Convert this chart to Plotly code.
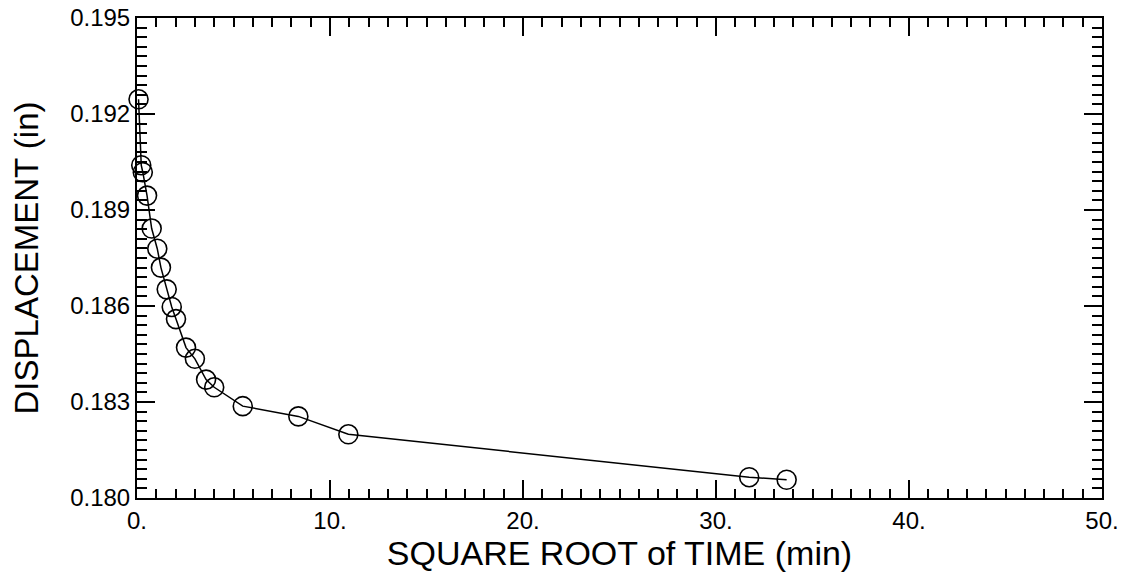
import plotly.graph_objects as go

# square root of time (min) and displacement (in)
sqrt_time = [0.08, 0.22, 0.30, 0.52, 0.76, 1.05, 1.24, 1.54, 1.80, 2.02,
             2.54, 3.00, 3.58, 4.00, 5.48, 8.36, 10.95, 31.72, 33.66]
displacement = [0.19246, 0.19040, 0.19018, 0.18945, 0.18842, 0.18779, 0.18720,
                0.18652, 0.18597, 0.18559, 0.18470, 0.18435, 0.18370, 0.18346,
                0.18287, 0.18255, 0.18199, 0.18065, 0.18057]

x_ticks = [0, 10, 20, 30, 40, 50]
x_tick_text = ["0.", "10.", "20.", "30.", "40.", "50."]
y_ticks = [0.180, 0.183, 0.186, 0.189, 0.192, 0.195]

font_family = "Liberation Sans, Arial, sans-serif"

fig = go.Figure()
fig.add_trace(go.Scatter(
    x=sqrt_time,
    y=displacement,
    mode="lines+markers",
    line=dict(color="black", width=1.5),
    marker=dict(symbol="circle-open", size=19, color="black", line=dict(width=1.6)),
    cliponaxis=False,
    showlegend=False,
))

axis_common = dict(
    showline=True,
    linecolor="black",
    linewidth=2,
    mirror="allticks",
    ticks="inside",
    tickcolor="black",
    tickwidth=2,
    showgrid=False,
    zeroline=False,
    automargin=False,
    tickfont=dict(family=font_family, size=24, color="black"),
)

fig.update_xaxes(
    range=[0, 50],
    tickvals=x_ticks,
    ticktext=x_tick_text,
    ticklen=18,
    minor=dict(dtick=1, ticklen=9, tickwidth=1.5, ticks="inside", tickcolor="black"),
    title=dict(text="SQUARE ROOT of TIME (min)",
               font=dict(family=font_family, size=34, color="black"), standoff=4),
    **axis_common,
)
fig.update_yaxes(
    range=[0.180, 0.195],
    tickvals=y_ticks,
    tickformat=".3f",
    ticklen=18,
    minor=dict(dtick=0.0003, ticklen=10, tickwidth=1.5, ticks="inside", tickcolor="black"),
    title=dict(text="DISPLACEMENT (in)",
               font=dict(family=font_family, size=33, color="black"), standoff=22),
    **axis_common,
)

fig.update_layout(
    width=1127,
    height=587,
    margin=dict(l=137, r=25, t=18, b=89),
    plot_bgcolor="white",
    paper_bgcolor="white",
)

# drop the browser's default body margin so the figure sits at the page corner
fig.write_html(
    "out.html",
    config={"displayModeBar": False},
    post_script="document.body.style.margin = '0';",
)
